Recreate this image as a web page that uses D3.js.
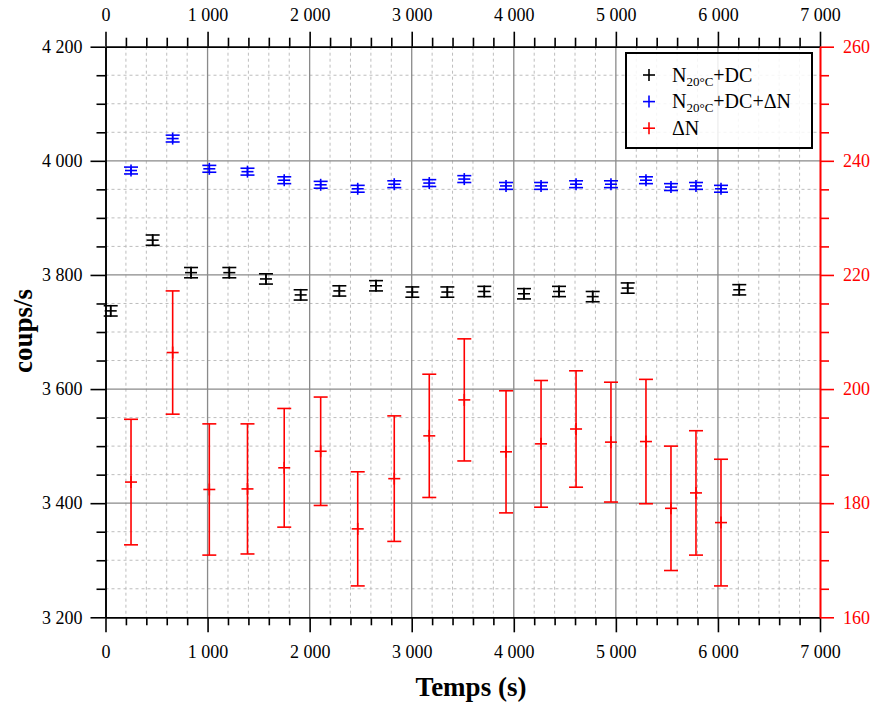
<!DOCTYPE html>
<html><head><meta charset="utf-8">
<script src="https://cdn.jsdelivr.net/npm/d3@7"></script>
<style>
body{margin:0;background:#fff;}
svg{display:block;font-family:"Liberation Serif","Times New Roman",serif;}
</style></head>
<body><svg id="c" width="876" height="706"></svg>
<script>
// ---- data ----
const timeBlack = [51,462,838,1213,1572,1912,2291,2650,3006,3349,3711,4100,4443,4773,5116,6209];
const valBlack  = [3737,3861,3804,3804,3793,3765,3772,3781,3770,3770,3771,3767,3771,3762,3777,3774];
const errBlack  = [9,9,9,9,9,9,9,9,9,9,9,9,9,9,9,9];
const timeBlue  = [250,658,1017,1391,1751,2108,2471,2829,3172,3515,3924,4267,4610,4952,5295,5540,5785,6030];
const valBlue   = [3983,4039,3986,3981,3966,3958,3951,3959,3961,3968,3956,3956,3959,3959,3966,3954,3956,3951];
const errBlue   = [6,6,6,6,6,6,6,6,6,6,6,6,6,6,6,6,6,6];
const valDelta  = [183.7,206.4,182.4,182.5,186.2,189.1,175.5,184.3,191.8,198.1,189.0,190.4,193.0,190.7,190.8,179.1,181.8,176.6];
const errDelta  = [11.0,10.8,11.5,11.4,10.4,9.5,10.0,11.0,10.8,10.7,10.7,11.1,10.2,10.5,10.9,10.9,10.9,11.1];
const xTicks    = [0,1000,2000,3000,4000,5000,6000,7000];
const yLeftTicks  = [3200,3400,3600,3800,4000,4200];
const yRightTicks = [160,180,200,220,240,260];
const legendLabels = ["N|20°C|+DC","N|20°C|+DC+ΔN","ΔN"];

// ---- layout ----
const svg = d3.select("#c");
const X0=105.5, X1=820, Y0=617.3, Y1=46.7;
const FONT = '"Liberation Serif","Times New Roman",serif';
const x  = d3.scaleLinear().domain([0,7000]).range([X0,X1]);
const yL = d3.scaleLinear().domain([3200,4200]).range([Y0,Y1]);
const yR = d3.scaleLinear().domain([160,260]).range([Y0,Y1]);
const fmt = d => d3.format(",")(d).replace(/,/g," ");

const xMinor = d3.range(0,7001,200).filter(v=>v%1000!==0);
const yMinor = d3.range(3200,4201,50).filter(v=>v%200!==0);
const yRMinor = d3.range(160,261,5).filter(v=>v%20!==0);

// grid
const g = svg.append("g");
g.selectAll(".vmin").data(xMinor).join("line")
  .attr("x1",d=>x(d)).attr("x2",d=>x(d)).attr("y1",Y1).attr("y2",Y0)
  .attr("stroke","#bdbdbd").attr("stroke-width",1).attr("stroke-dasharray","3,3");
g.selectAll(".hmin").data(yMinor).join("line")
  .attr("y1",d=>yL(d)).attr("y2",d=>yL(d)).attr("x1",X0).attr("x2",X1)
  .attr("stroke","#bdbdbd").attr("stroke-width",1).attr("stroke-dasharray","3,3");
g.selectAll(".vmaj").data(xTicks.slice(1,-1)).join("line")
  .attr("x1",d=>x(d)).attr("x2",d=>x(d)).attr("y1",Y1).attr("y2",Y0)
  .attr("stroke","#8a8a8a").attr("stroke-width",1.3);
g.selectAll(".hmaj").data(yLeftTicks.slice(1,-1)).join("line")
  .attr("y1",d=>yL(d)).attr("y2",d=>yL(d)).attr("x1",X0).attr("x2",X1)
  .attr("stroke","#8a8a8a").attr("stroke-width",1.3);

function styleAxis(sel,color){
  sel.attr("font-family",null).attr("font-size",null);
  sel.selectAll("path").attr("stroke",color).attr("stroke-width",1.6);
  sel.selectAll("line").attr("stroke",color).attr("stroke-width",1.6);
  sel.selectAll("text").attr("fill",color)
     .style("font-size","18px").style("font-family",FONT);
}
// bottom
const ab = svg.append("g").attr("transform",`translate(0,${Y0})`);
ab.append("g").call(d3.axisBottom(x).tickValues(xMinor).tickSize(8).tickFormat("").tickSizeOuter(0)).call(styleAxis,"#000");
ab.append("g").call(d3.axisBottom(x).tickValues(xTicks).tickSize(15).tickPadding(13).tickFormat(fmt).tickSizeOuter(0)).call(styleAxis,"#000");
// top
const at = svg.append("g").attr("transform",`translate(0,${Y1})`);
at.append("g").call(d3.axisTop(x).tickValues(xMinor).tickSize(9).tickFormat("").tickSizeOuter(0)).call(styleAxis,"#000");
at.append("g").call(d3.axisTop(x).tickValues(xTicks).tickSize(15).tickPadding(11).tickFormat(fmt).tickSizeOuter(0)).call(styleAxis,"#000");
// left
const al = svg.append("g").attr("transform",`translate(${X0},0)`);
al.append("g").call(d3.axisLeft(yL).tickValues(yMinor).tickSize(9).tickFormat("").tickSizeOuter(0)).call(styleAxis,"#000");
al.append("g").call(d3.axisLeft(yL).tickValues(yLeftTicks).tickSize(15).tickPadding(8).tickFormat(fmt).tickSizeOuter(0)).call(styleAxis,"#000");
// right
const ar = svg.append("g").attr("transform",`translate(${X1},0)`);
ar.append("g").call(d3.axisRight(yR).tickValues(yRMinor).tickSize(9).tickFormat("").tickSizeOuter(0)).call(styleAxis,"#ff0000");
ar.append("g").call(d3.axisRight(yR).tickValues(yRightTicks).tickSize(14).tickPadding(9).tickFormat(d3.format("d")).tickSizeOuter(0)).call(styleAxis,"#ff0000");

// axis titles
svg.append("text").attr("x",471).attr("y",696).attr("text-anchor","middle")
  .style("font-family",FONT).attr("font-size",27).attr("font-weight","bold").text("Temps (s)");
svg.append("text").attr("transform","translate(32,331) rotate(-90)").attr("text-anchor","middle")
  .style("font-family",FONT).attr("font-size",27).attr("font-weight","bold").text("coups/s");

// error bars
function drawSeries(times, vals, errs, yS, color, cap, arm){
  const s = svg.append("g").attr("stroke",color).attr("stroke-width",1.6).attr("fill","none");
  const data = times.map((t,i)=>({t,v:vals[i],e:errs[i]}));
  const grp = s.selectAll("g").data(data).join("g");
  grp.append("line").attr("x1",d=>x(d.t)).attr("x2",d=>x(d.t)).attr("y1",d=>yS(d.v+d.e)).attr("y2",d=>yS(d.v-d.e));
  grp.append("line").attr("x1",d=>x(d.t)-cap).attr("x2",d=>x(d.t)+cap).attr("y1",d=>yS(d.v+d.e)).attr("y2",d=>yS(d.v+d.e));
  grp.append("line").attr("x1",d=>x(d.t)-cap).attr("x2",d=>x(d.t)+cap).attr("y1",d=>yS(d.v-d.e)).attr("y2",d=>yS(d.v-d.e));
  // plus marker
  grp.append("line").attr("x1",d=>x(d.t)-arm).attr("x2",d=>x(d.t)+arm).attr("y1",d=>yS(d.v)).attr("y2",d=>yS(d.v));
  grp.append("line").attr("x1",d=>x(d.t)).attr("x2",d=>x(d.t)).attr("y1",d=>yS(d.v)-arm).attr("y2",d=>yS(d.v)+arm);
}
drawSeries(timeBlack,valBlack,errBlack,yL,"#000",7,6);
drawSeries(timeBlue,valBlue,errBlue,yL,"#0000ff",7,6);
drawSeries(timeBlue,valDelta,errDelta,yR,"#ff0000",7,6);

// legend
const lg = svg.append("g");
lg.append("rect").attr("x",626).attr("y",53).attr("width",186).attr("height",95)
  .attr("fill","#fff").attr("fill-opacity",0.85).attr("stroke","#000").attr("stroke-width",2);
const lcolors = ["#000","#0000ff","#ff0000"];
legendLabels.forEach((lab,i)=>{
  const cy = 75 + i*26.6;
  lg.append("line").attr("x1",643).attr("x2",655).attr("y1",cy).attr("y2",cy).attr("stroke",lcolors[i]).attr("stroke-width",1.6);
  lg.append("line").attr("x1",649).attr("x2",649).attr("y1",cy-6).attr("y2",cy+6).attr("stroke",lcolors[i]).attr("stroke-width",1.6);
  const t = lg.append("text").attr("x",672).attr("y",cy+6.7).style("font-family",FONT).attr("font-size",20);
  const parts = lab.split("|");
  if(parts.length===3){
    t.append("tspan").text(parts[0]);
    t.append("tspan").attr("font-size",13).attr("dy",4).text(parts[1]);
    t.append("tspan").attr("dy",-4).text(parts[2]);
  } else t.text(lab);
});
</script></body></html>
